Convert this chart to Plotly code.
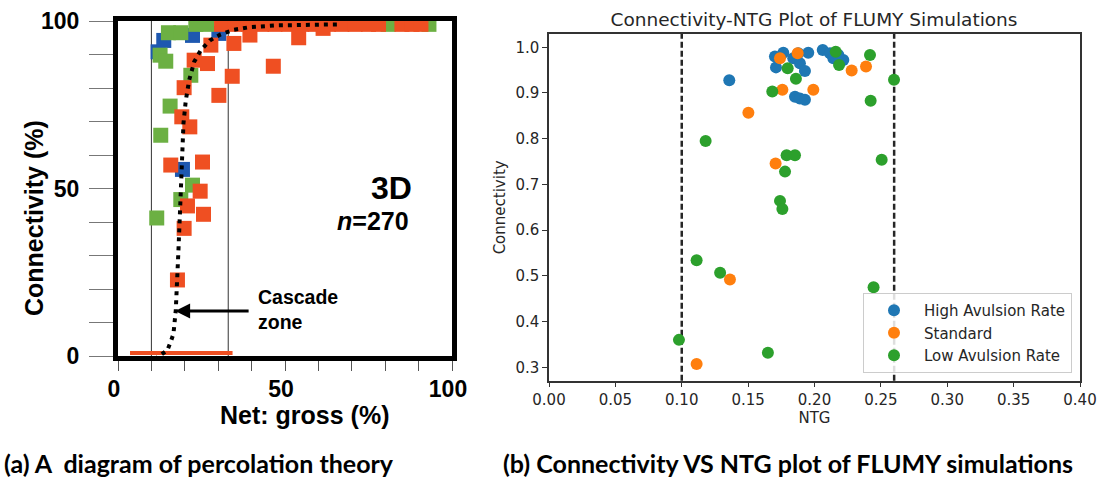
import plotly.graph_objects as go

W, H = 1097, 479

# ---------------- Panel (a): percolation theory (values in %) ----------------
a_blue_x = [12.0, 13.7, 22.3, 30.2, 19.3]
a_blue_y = [90.8, 94.2, 95.7, 96.3, 55.7]

a_green_x = [15.1, 18.8, 23.3, 26.6, 12.6, 14.3, 21.8, 15.6, 12.8, 22.3, 18.8, 11.6, 80.9, 93.1]
a_green_y = [96.5, 96.5, 99.0, 99.0, 89.8, 88.0, 83.8, 74.6, 65.9, 51.0, 46.7, 41.2, 99.0, 99.0]

a_orange_x = [31, 35, 39, 43, 47, 51, 55, 59, 63, 67, 71, 75, 78, 85, 88, 90.7,
              34.7, 39.5, 54.1, 61.4, 46.5, 27.8, 22.8, 26.8, 34.2, 19.8, 30.2,
              19.1, 21.5, 25.3, 15.8, 24.6, 20.8, 25.6, 19.8, 17.8]
a_orange_y = [99, 99, 99, 99, 99, 99, 99, 99, 99, 99, 99, 99, 99, 99, 99, 99,
              93.3, 95.8, 95.0, 97.8, 86.5, 92.8, 88.3, 87.3, 83.5, 80.1, 77.8,
              71.4, 68.4, 57.9, 57.0, 49.2, 44.8, 42.3, 38.1, 22.7]

# zero-connectivity samples (flat strip on the x axis)
a_zero_x = [3.6, 34.3]
a_zero_y = [0.9, 0.9]

# percolation curve
a_curve_x = [2.7, 8.0, 11.5, 12.8, 14.8, 15.8, 16.6, 17.3, 17.8, 18.1, 18.5, 18.8, 19.1,
             19.6, 20.3, 21.3, 22.8, 24.8, 27.5, 30.7, 34.7, 39.7, 47.7, 57.6, 66.6]
a_curve_y = [-0.9, -0.9, -0.6, 0.3, 1.8, 4.3, 6.6, 13.7, 22.7, 31.6, 41.5, 51.5, 61.4,
             69.4, 76.3, 82.3, 87.8, 91.3, 94.2, 96.0, 97.4, 98.2, 98.7, 99.0, 99.0]

cascade_bounds = [10, 33]
a_ticks = [0, 50, 100]
a_ticktext = ["0", "50", "100"]

# ---------------- Panel (b): FLUMY simulations ----------------
high_x = [0.1358, 0.1702, 0.1765, 0.1710, 0.1840, 0.1878, 0.1953, 0.1890, 0.1928,
          0.2062, 0.2117, 0.2142, 0.2217, 0.2180, 0.1853, 0.1890, 0.1928]
high_y = [0.928, 0.980, 0.988, 0.956, 0.976, 0.987, 0.988, 0.965, 0.948,
          0.994, 0.987, 0.976, 0.972, 0.983, 0.892, 0.888, 0.885]

std_x = [0.1740, 0.1873, 0.1758, 0.1991, 0.2280, 0.2388, 0.1502, 0.1707, 0.1363, 0.1112]
std_y = [0.976, 0.987, 0.907, 0.907, 0.949, 0.958, 0.857, 0.746, 0.492, 0.307]

low_x = [0.1798, 0.1860, 0.1682, 0.2160, 0.2185, 0.2418, 0.2599, 0.2423, 0.1180, 0.1790,
         0.1853, 0.1778, 0.2506, 0.1740, 0.1758, 0.1112, 0.1289, 0.2445, 0.0979, 0.1649]
low_y = [0.954, 0.931, 0.903, 0.990, 0.961, 0.983, 0.929, 0.883, 0.795, 0.764,
         0.764, 0.728, 0.754, 0.664, 0.646, 0.534, 0.507, 0.475, 0.360, 0.332]

ntg_bounds = [0.10, 0.26]

C_ORANGE, C_GREEN, C_BLUE = "#EF4F22", "#6CB043", "#1E58B0"
MPL_BLUE, MPL_ORANGE, MPL_GREEN = "#1f77b4", "#ff7f0e", "#2ca02c"

ARIAL = "Liberation Sans"
DEJAVU = "DejaVu Sans"
CAPTION = "Lato"

fig = go.Figure()

sq = dict(symbol="square", size=15, line=dict(width=0))
for xs, ys, col in [(a_blue_x, a_blue_y, C_BLUE), (a_green_x, a_green_y, C_GREEN),
                    (a_orange_x, a_orange_y, C_ORANGE)]:
    fig.add_trace(go.Scatter(x=xs, y=ys, mode="markers", marker=dict(color=col, **sq),
                             xaxis="x", yaxis="y", showlegend=False, hoverinfo="skip"))
fig.add_trace(go.Scatter(x=a_zero_x, y=a_zero_y, mode="lines",
                         line=dict(color=C_ORANGE, width=4), xaxis="x", yaxis="y",
                         showlegend=False, hoverinfo="skip"))
fig.add_trace(go.Scatter(x=a_curve_x, y=a_curve_y, mode="lines",
                         line=dict(color="black", width=4, dash="4px,5px"),
                         xaxis="x", yaxis="y", showlegend=False, hoverinfo="skip"))

dot = dict(size=12, line=dict(width=0))
for xs, ys, col, name in [(high_x, high_y, MPL_BLUE, "High Avulsion Rate"),
                          (std_x, std_y, MPL_ORANGE, "Standard"),
                          (low_x, low_y, MPL_GREEN, "Low Avulsion Rate")]:
    fig.add_trace(go.Scatter(x=xs, y=ys, mode="markers", name=name,
                             marker=dict(color=col, **dot), xaxis="x2", yaxis="y2"))

shapes = []
for b in cascade_bounds:
    shapes.append(dict(type="line", xref="x", yref="y domain", x0=b, x1=b, y0=0, y1=1,
                       line=dict(color="#333333", width=1), layer="below"))
for b in ntg_bounds:
    shapes.append(dict(type="line", xref="x2", yref="y2 domain", x0=b, x1=b, y0=0, y1=1,
                       line=dict(color="#262626", width=2.5, dash="6px,3px"), layer="below"))


def px(x):
    return x / W


def py(y):
    return 1 - y / H


annotations = [
    dict(text="Connectivity (%)", xref="paper", yref="paper", x=px(34), y=py(218),
         textangle=-90, showarrow=False, xanchor="center", yanchor="middle",
         font=dict(family=ARIAL, size=25, color="black", weight="bold")),
    dict(text="Net: gross (%)", xref="paper", yref="paper", x=px(304), y=py(415),
         showarrow=False, xanchor="center", yanchor="middle",
         font=dict(family=ARIAL, size=25, color="black", weight="bold")),
    dict(text="3D", xref="paper", yref="paper", x=px(414), y=py(188), showarrow=False,
         xanchor="right", yanchor="middle",
         font=dict(family=ARIAL, size=32, color="black", weight="bold")),
    dict(text="<i>n</i>=270", xref="paper", yref="paper", x=px(411), y=py(221),
         showarrow=False, xanchor="right", yanchor="middle",
         font=dict(family=ARIAL, size=25, color="black", weight="bold")),
    dict(text="Cascade<br>zone", xref="paper", yref="paper", x=px(256), y=py(309),
         showarrow=False, xanchor="left", yanchor="middle", align="left",
         font=dict(family=ARIAL, size=19.5, color="black", weight="bold")),
    dict(text="", xref="x", yref="y", x=17.1, y=13.4, ax=75, ay=0, showarrow=True,
         arrowhead=2, arrowsize=1, arrowwidth=3, arrowcolor="black"),
    dict(text="(a) A\u00a0 diagram of percolation theory", xref="paper", yref="paper",
         x=px(199), y=0, showarrow=False, xanchor="center", yanchor="bottom",
         borderpad=0,
         font=dict(family=CAPTION, size=25, color="black", weight="bold")),
    dict(text="(b) Connectivity VS NTG plot of FLUMY simulations", xref="paper",
         yref="paper", x=px(788), y=0, showarrow=False, xanchor="center",
         yanchor="bottom", borderpad=0,
         font=dict(family=CAPTION, size=25, color="black", weight="bold")),
]

tick_font_a = dict(family=ARIAL, size=23, color="black", weight="bold")
tick_font_b = dict(family=DEJAVU, size=15, color="#262626")

fig.update_layout(
    width=W, height=H, margin=dict(l=0, r=0, t=0, b=0),
    paper_bgcolor="white", plot_bgcolor="white",
    title=dict(text="Connectivity-NTG Plot of FLUMY Simulations", x=px(814), y=py(20),
               xanchor="center", yanchor="middle", xref="paper", yref="paper",
               font=dict(family=DEJAVU, size=18.5, color="#262626")),
    xaxis=dict(domain=[px(118), px(452)], range=[0, 100], anchor="y",
               showline=True, mirror=True, linewidth=5, linecolor="black",
               showgrid=False, zeroline=False, tickmode="array", tickvals=a_ticks,
               ticktext=a_ticktext, ticks="outside", ticklen=8, tickwidth=1,
               tickcolor="#555555", tickfont=tick_font_a, ticklabelshift=-4,
               minor=dict(dtick=10, tick0=0, ticks="outside", ticklen=10, tickwidth=1,
                          tickcolor="#555555", showgrid=False),
               automargin=False, fixedrange=True),
    yaxis=dict(domain=[py(356), py(21)], range=[0, 100], anchor="x",
               showline=True, mirror=True, linewidth=5, linecolor="black",
               showgrid=False, zeroline=False, tickmode="array", tickvals=a_ticks,
               ticktext=a_ticktext, ticks="outside", ticklen=24, tickwidth=1,
               tickcolor="#777777", tickfont=tick_font_a, ticklabelstandoff=5,
               minor=dict(dtick=10, tick0=0, ticks="outside", ticklen=24, tickwidth=1,
                          tickcolor="#777777", showgrid=False),
               automargin=False, fixedrange=True),
    xaxis2=dict(domain=[px(549), px(1080)], range=[0, 0.4], anchor="y2",
                showline=True, mirror=True, linewidth=1.5, linecolor="#333333",
                showgrid=False, zeroline=False, dtick=0.05, tick0=0, tickformat=".2f",
                ticks="outside", ticklen=5, tickwidth=1.3, tickcolor="#333333",
                tickfont=tick_font_b,
                title=dict(text="NTG", font=dict(family=DEJAVU, size=15, color="#262626"),
                           standoff=4),
                automargin=False, fixedrange=True),
    yaxis2=dict(domain=[py(380.7), py(34)], range=[0.2707, 1.029], anchor="x2",
                showline=True, mirror=True, linewidth=1.5, linecolor="#333333",
                showgrid=False, zeroline=False, dtick=0.1, tick0=0.3, tickformat=".1f",
                ticks="outside", ticklen=5, tickwidth=1.3, tickcolor="#333333",
                tickfont=tick_font_b,
                title=dict(text="Connectivity",
                           font=dict(family=DEJAVU, size=15, color="#262626"), standoff=6),
                automargin=False, fixedrange=True),
    legend=dict(x=px(1072), y=py(373), xanchor="right", yanchor="bottom",
                bgcolor="rgba(255,255,255,0.85)", bordercolor="#cccccc", borderwidth=1,
                itemwidth=50,
                font=dict(family=DEJAVU, size=15, color="#262626"), tracegroupgap=0),
    shapes=shapes, annotations=annotations,
)

fig.write_html("out.html")
